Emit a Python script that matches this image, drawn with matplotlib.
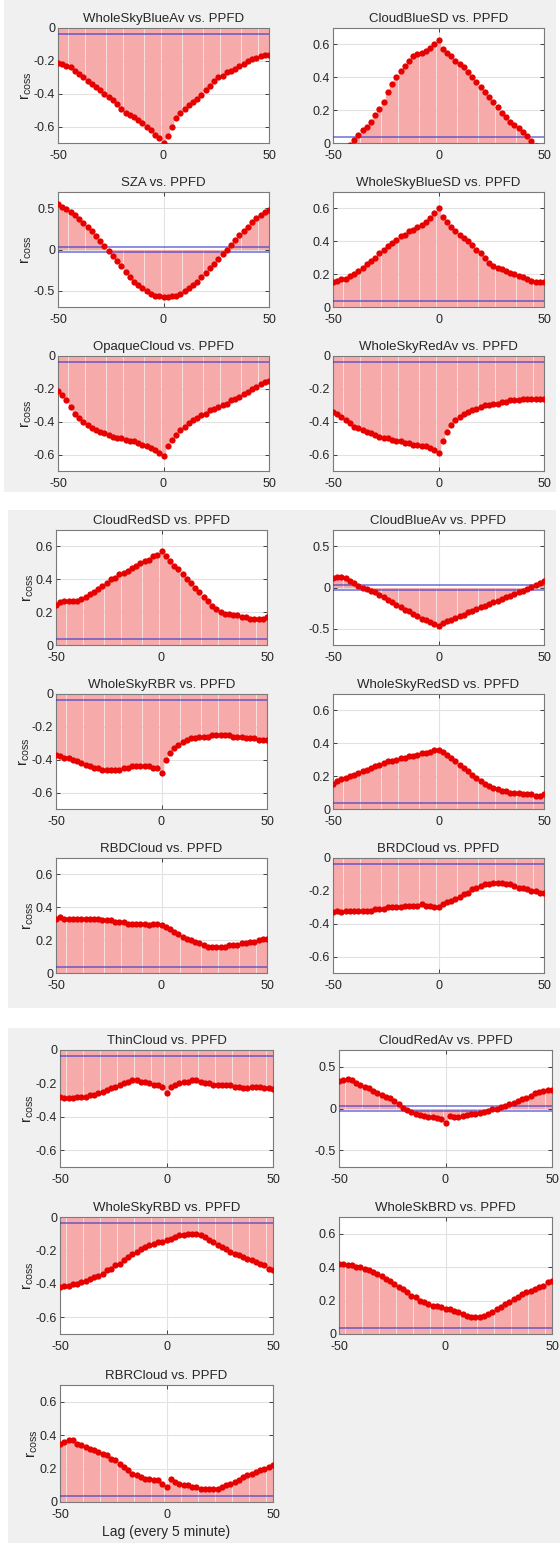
import numpy as np
import matplotlib.pyplot as plt
from matplotlib.patches import Rectangle

plt.rcParams['font.family'] = ['Liberation Sans', 'DejaVu Sans']
plt.rcParams['axes.unicode_minus'] = False

# lag axis (every 5 minute steps)
lags = np.arange(-50, 51, 2)

whole_sky_blue_av = [-0.21, -0.22, -0.23, -0.24, -0.26, -0.28, -0.30, -0.32, -0.34, -0.36, -0.38,
                     -0.40, -0.42, -0.44, -0.46, -0.49, -0.52, -0.53, -0.54, -0.56, -0.58, -0.60,
                     -0.62, -0.65, -0.67, -0.70, -0.66, -0.60, -0.55, -0.52, -0.49, -0.47, -0.45,
                     -0.43, -0.41, -0.38, -0.35, -0.32, -0.30, -0.29, -0.27, -0.26, -0.25, -0.23,
                     -0.22, -0.20, -0.19, -0.18, -0.17, -0.165, -0.165]
cloud_blue_sd = [-0.10, -0.08, -0.06, -0.04, -0.01, 0.02, 0.05, 0.08, 0.10, 0.13, 0.17, 0.21, 0.25,
                 0.31, 0.36, 0.40, 0.44, 0.47, 0.50, 0.53, 0.54, 0.55, 0.56, 0.58, 0.60, 0.63, 0.57,
                 0.55, 0.53, 0.50, 0.48, 0.46, 0.43, 0.40, 0.37, 0.34, 0.31, 0.28, 0.25, 0.22, 0.18,
                 0.16, 0.13, 0.11, 0.09, 0.07, 0.04, 0.01, -0.02, -0.05, -0.08]
sza = [0.55, 0.52, 0.49, 0.46, 0.42, 0.37, 0.32, 0.27, 0.22, 0.16, 0.10, 0.04, -0.02, -0.08, -0.14,
       -0.20, -0.27, -0.33, -0.39, -0.43, -0.47, -0.51, -0.54, -0.56, -0.57, -0.58, -0.58, -0.57,
       -0.56, -0.54, -0.51, -0.47, -0.43, -0.39, -0.34, -0.29, -0.23, -0.18, -0.12, -0.06, 0.00,
       0.06, 0.12, 0.18, 0.23, 0.28, 0.33, 0.38, 0.42, 0.46, 0.48]
whole_sky_blue_sd = [0.15, 0.16, 0.17, 0.17, 0.19, 0.20, 0.22, 0.24, 0.26, 0.28, 0.30, 0.33, 0.35,
                     0.37, 0.39, 0.41, 0.43, 0.44, 0.46, 0.47, 0.49, 0.50, 0.52, 0.54, 0.57, 0.60,
                     0.55, 0.52, 0.49, 0.46, 0.44, 0.42, 0.40, 0.38, 0.35, 0.33, 0.30, 0.27, 0.25,
                     0.24, 0.23, 0.22, 0.21, 0.20, 0.19, 0.18, 0.17, 0.16, 0.15, 0.15, 0.15]
opaque_cloud = [-0.21, -0.24, -0.27, -0.31, -0.35, -0.38, -0.40, -0.42, -0.44, -0.45, -0.46, -0.47,
                -0.48, -0.49, -0.50, -0.50, -0.51, -0.52, -0.52, -0.53, -0.54, -0.55, -0.56, -0.57,
                -0.59, -0.61, -0.55, -0.51, -0.48, -0.45, -0.43, -0.41, -0.39, -0.38, -0.36, -0.35,
                -0.33, -0.32, -0.31, -0.30, -0.29, -0.27, -0.26, -0.25, -0.23, -0.22, -0.20, -0.19,
                -0.17, -0.16, -0.15]
whole_sky_red_av = [-0.34, -0.35, -0.37, -0.39, -0.41, -0.43, -0.44, -0.45, -0.46, -0.47, -0.48,
                    -0.49, -0.50, -0.50, -0.51, -0.52, -0.52, -0.53, -0.53, -0.54, -0.54, -0.55,
                    -0.55, -0.56, -0.57, -0.59, -0.52, -0.46, -0.42, -0.39, -0.37, -0.35, -0.34,
                    -0.33, -0.32, -0.31, -0.30, -0.30, -0.29, -0.29, -0.28, -0.28, -0.27, -0.27,
                    -0.27, -0.26, -0.26, -0.26, -0.26, -0.26, -0.26]
cloud_red_sd = [0.245, 0.26, 0.265, 0.27, 0.27, 0.27, 0.28, 0.29, 0.31, 0.32, 0.34, 0.36, 0.38,
                0.40, 0.41, 0.43, 0.44, 0.45, 0.47, 0.48, 0.50, 0.51, 0.52, 0.54, 0.55, 0.57, 0.54,
                0.51, 0.48, 0.46, 0.43, 0.40, 0.38, 0.35, 0.32, 0.29, 0.27, 0.24, 0.22, 0.20, 0.19,
                0.19, 0.18, 0.18, 0.17, 0.17, 0.16, 0.16, 0.16, 0.16, 0.17]
cloud_blue_av = [0.12, 0.13, 0.13, 0.11, 0.08, 0.05, 0.02, 0.00, -0.02, -0.04, -0.06, -0.09, -0.12,
                 -0.15, -0.18, -0.21, -0.24, -0.27, -0.29, -0.32, -0.35, -0.38, -0.40, -0.42, -0.44,
                 -0.47, -0.43, -0.41, -0.39, -0.37, -0.35, -0.33, -0.30, -0.28, -0.26, -0.24, -0.22,
                 -0.20, -0.18, -0.16, -0.14, -0.12, -0.10, -0.08, -0.06, -0.04, -0.02, 0.01, 0.03,
                 0.06, 0.08]
whole_sky_rbr = [-0.37, -0.38, -0.39, -0.39, -0.40, -0.41, -0.42, -0.43, -0.44, -0.45, -0.45, -0.46,
                 -0.46, -0.46, -0.46, -0.46, -0.45, -0.45, -0.44, -0.44, -0.44, -0.44, -0.44, -0.45,
                 -0.45, -0.48, -0.40, -0.36, -0.33, -0.31, -0.29, -0.28, -0.27, -0.27, -0.26, -0.26,
                 -0.26, -0.25, -0.25, -0.25, -0.25, -0.25, -0.26, -0.26, -0.26, -0.27, -0.27, -0.27,
                 -0.28, -0.28, -0.28]
whole_sky_red_sd = [0.15, 0.17, 0.18, 0.19, 0.20, 0.21, 0.22, 0.23, 0.24, 0.25, 0.26, 0.27, 0.28,
                    0.29, 0.29, 0.30, 0.31, 0.31, 0.32, 0.32, 0.33, 0.34, 0.34, 0.35, 0.36, 0.36,
                    0.35, 0.33, 0.31, 0.29, 0.27, 0.25, 0.23, 0.21, 0.19, 0.17, 0.15, 0.14, 0.13,
                    0.12, 0.11, 0.11, 0.10, 0.10, 0.10, 0.09, 0.09, 0.09, 0.08, 0.08, 0.09]
rbd_cloud = [0.33, 0.34, 0.33, 0.33, 0.33, 0.33, 0.33, 0.33, 0.33, 0.33, 0.33, 0.32, 0.32, 0.32,
             0.31, 0.31, 0.31, 0.30, 0.30, 0.30, 0.30, 0.30, 0.29, 0.30, 0.30, 0.29, 0.28, 0.27,
             0.25, 0.24, 0.22, 0.21, 0.20, 0.19, 0.18, 0.17, 0.16, 0.16, 0.16, 0.16, 0.16, 0.17,
             0.17, 0.17, 0.18, 0.18, 0.19, 0.19, 0.20, 0.21, 0.21]
brd_cloud = [-0.33, -0.32, -0.33, -0.32, -0.32, -0.32, -0.32, -0.32, -0.32, -0.32, -0.31, -0.31,
             -0.31, -0.30, -0.30, -0.30, -0.30, -0.29, -0.29, -0.29, -0.29, -0.28, -0.29, -0.29,
             -0.30, -0.30, -0.28, -0.27, -0.26, -0.25, -0.24, -0.22, -0.21, -0.19, -0.18, -0.17,
             -0.16, -0.16, -0.15, -0.15, -0.15, -0.16, -0.16, -0.17, -0.18, -0.18, -0.19, -0.20,
             -0.20, -0.21, -0.21]
thin_cloud = [-0.28, -0.29, -0.29, -0.29, -0.28, -0.28, -0.28, -0.27, -0.27, -0.26, -0.25, -0.24,
              -0.23, -0.22, -0.21, -0.20, -0.19, -0.18, -0.18, -0.19, -0.19, -0.20, -0.21, -0.21,
              -0.22, -0.26, -0.22, -0.21, -0.20, -0.19, -0.19, -0.18, -0.18, -0.19, -0.20, -0.20,
              -0.21, -0.21, -0.21, -0.21, -0.21, -0.22, -0.22, -0.23, -0.23, -0.22, -0.22, -0.22,
              -0.23, -0.23, -0.235]
cloud_red_av = [0.33, 0.34, 0.35, 0.34, 0.31, 0.28, 0.26, 0.24, 0.21, 0.18, 0.16, 0.14, 0.12, 0.09,
                0.05, 0.01, -0.02, -0.04, -0.06, -0.08, -0.09, -0.10, -0.10, -0.11, -0.12, -0.17,
                -0.09, -0.10, -0.10, -0.09, -0.08, -0.07, -0.06, -0.05, -0.04, -0.03, -0.01, 0.00,
                0.02, 0.03, 0.05, 0.07, 0.09, 0.11, 0.13, 0.15, 0.18, 0.20, 0.21, 0.22, 0.22]
whole_sky_rbd = [-0.42, -0.41, -0.41, -0.40, -0.40, -0.39, -0.38, -0.37, -0.36, -0.35, -0.34, -0.32,
                 -0.31, -0.29, -0.28, -0.26, -0.24, -0.22, -0.21, -0.19, -0.18, -0.17, -0.16, -0.15,
                 -0.15, -0.14, -0.13, -0.12, -0.11, -0.11, -0.10, -0.10, -0.10, -0.11, -0.12, -0.14,
                 -0.15, -0.17, -0.18, -0.19, -0.21, -0.22, -0.23, -0.24, -0.25, -0.26, -0.27, -0.28,
                 -0.29, -0.31, -0.32]
whole_sk_brd = [0.42, 0.42, 0.41, 0.41, 0.40, 0.40, 0.39, 0.38, 0.37, 0.36, 0.35, 0.33, 0.32, 0.30,
                0.28, 0.27, 0.25, 0.23, 0.22, 0.20, 0.19, 0.18, 0.17, 0.17, 0.16, 0.15, 0.15, 0.14,
                0.13, 0.12, 0.11, 0.10, 0.10, 0.10, 0.11, 0.12, 0.13, 0.15, 0.16, 0.18, 0.19, 0.21,
                0.22, 0.24, 0.25, 0.26, 0.27, 0.28, 0.29, 0.31, 0.32]
rbr_cloud = [0.35, 0.36, 0.37, 0.37, 0.35, 0.34, 0.33, 0.32, 0.31, 0.30, 0.29, 0.28, 0.26, 0.25,
             0.23, 0.21, 0.19, 0.17, 0.16, 0.15, 0.14, 0.14, 0.13, 0.13, 0.11, 0.09, 0.14, 0.12,
             0.11, 0.10, 0.10, 0.09, 0.09, 0.08, 0.08, 0.08, 0.08, 0.08, 0.09, 0.10, 0.11, 0.12,
             0.13, 0.15, 0.16, 0.17, 0.18, 0.19, 0.20, 0.21, 0.22]

titles = ['WholeSkyBlueAv', 'CloudBlueSD', 'SZA', 'WholeSkyBlueSD', 'OpaqueCloud', 'WholeSkyRedAv',
          'CloudRedSD', 'CloudBlueAv', 'WholeSkyRBR', 'WholeSkyRedSD', 'RBDCloud', 'BRDCloud',
          'ThinCloud', 'CloudRedAv', 'WholeSkyRBD', 'WholeSkBRD', 'RBRCloud']
series = [whole_sky_blue_av, cloud_blue_sd, sza, whole_sky_blue_sd, opaque_cloud, whole_sky_red_av,
          cloud_red_sd, cloud_blue_av, whole_sky_rbr, whole_sky_red_sd, rbd_cloud, brd_cloud,
          thin_cloud, cloud_red_av, whole_sky_rbd, whole_sk_brd, rbr_cloud]
# 'neg' -> [-0.7, 0], 'pos' -> [0, 0.7], 'both' -> [-0.7, 0.7]
ranges = ['neg', 'pos', 'both', 'pos', 'neg', 'neg',
          'pos', 'both', 'neg', 'pos', 'pos', 'neg',
          'neg', 'both', 'neg', 'pos', 'pos']
conf = 0.035

W, H = 560, 1543
fig = plt.figure(figsize=(W / 100, H / 100), dpi=100)
fig.patch.set_facecolor('white')

# three figure windows stacked, each with a grey background
blocks = [(4, 0, 552, 492), (8, 510, 548, 498), (8, 1028, 552, 515)]
for bx, by, bw, bh in blocks:
    fig.add_artist(Rectangle((bx / W, 1 - (by + bh) / H), bw / W, bh / H,
                             transform=fig.transFigure, facecolor='#f0f0f0',
                             edgecolor='none', zorder=0))

layout = [
    ([58, 333], [28, 192, 356], 211, 115),
    ([56, 333], [530, 694, 858], 211, 115),
    ([60, 339], [1050, 1217, 1385], 213, 117),
]

rects = []
for cols, rows, aw, ah in layout:
    for r in rows:
        for c in cols:
            rects.append((c, r, aw, ah))

txt = '#262626'
for i, (name, vals) in enumerate(zip(titles, series)):
    x0, y0, aw, ah = rects[i]
    ax = fig.add_axes([x0 / W, 1 - (y0 + ah) / H, aw / W, ah / H])
    ax.set_facecolor('white')
    vals = np.array(vals)

    # stems, confidence bounds, then the markers on top
    ax.vlines(lags, 0, vals, color='#f6aaaa', linewidth=3.2, zorder=2)
    ax.axhline(conf, color=(0.2, 0.2, 0.8), alpha=0.6, linewidth=1.3, zorder=3)
    ax.axhline(-conf, color=(0.2, 0.2, 0.8), alpha=0.6, linewidth=1.3, zorder=3)
    ax.plot(lags, vals, 'o', color='#e60000', markersize=4.5, markeredgewidth=0, zorder=4)

    ax.set_xlim(-50, 50)
    ax.set_xticks([-50, 0, 50])
    ax.set_xticklabels(['-50', '0', '50'])
    if ranges[i] == 'neg':
        ax.set_ylim(-0.7, 0)
        ax.set_yticks([-0.6, -0.4, -0.2, 0])
        ax.set_yticklabels(['-0.6', '-0.4', '-0.2', '0'])
    elif ranges[i] == 'pos':
        ax.set_ylim(0, 0.7)
        ax.set_yticks([0, 0.2, 0.4, 0.6])
        ax.set_yticklabels(['0', '0.2', '0.4', '0.6'])
    else:
        ax.set_ylim(-0.7, 0.7)
        ax.set_yticks([-0.5, 0, 0.5])
        ax.set_yticklabels(['-0.5', '0', '0.5'])

    ax.grid(True, color='#e2e2e2', linewidth=0.8, zorder=1)
    ax.set_axisbelow(True)
    ax.tick_params(direction='in', length=3, width=0.6, labelsize=9, colors=txt,
                   top=True, right=True)
    ax.tick_params(axis='x', pad=5)
    ax.tick_params(axis='y', pad=2)
    for s in ax.spines.values():
        s.set_color('#7a7a7a')
        s.set_linewidth(0.8)
    ax.set_title(f'{name} vs. PPFD', fontsize=9.5, color=txt, pad=4)
    if i % 2 == 0:
        ax.set_ylabel(r'$\mathregular{r_{coss}}$', fontsize=11, color=txt, labelpad=0)
    if i == len(titles) - 1:
        ax.set_xlabel('Lag (every 5 minute)', fontsize=10, color=txt, labelpad=3)

fig.savefig('out.png', dpi=100)
